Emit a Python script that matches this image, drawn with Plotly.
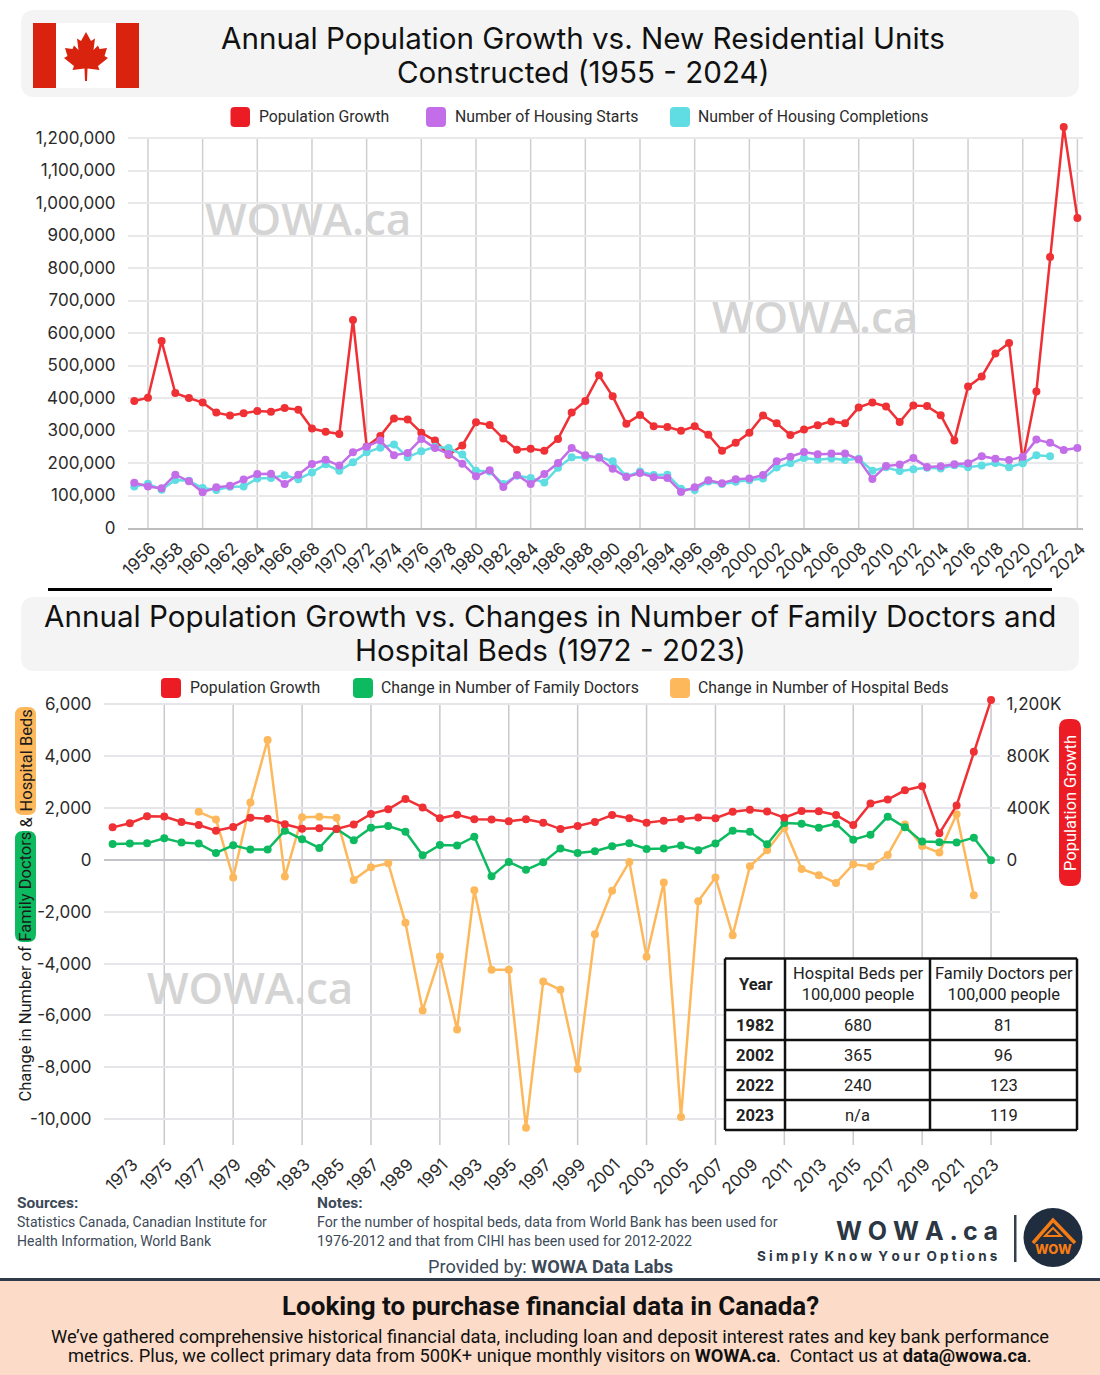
import plotly.graph_objects as go

W, H = 1100, 1375

# data
years_top = list(range(1955, 2025))
pop_growth = [391, 401, 575, 415, 400, 386, 355, 346, 353, 360, 358, 369, 364, 306, 296, 289, 640, 251, 283, 337,
              334, 293, 269, 225, 254, 325, 317, 275, 241, 244, 238, 274, 355, 391, 470, 405, 321, 348, 313, 311,
              299, 313, 287, 238, 262, 293, 346, 322, 286, 303, 316, 328, 322, 371, 386, 374, 326, 377, 375, 347,
              269, 435, 466, 537, 569, 205, 420, 834, 1234, 954]
housing_starts = [139, 128, 122, 164, 144, 110, 125, 130, 149, 166, 167, 135, 164, 197, 210, 192, 233, 250, 269, 224,
                  231, 274, 246, 228, 198, 159, 178, 126, 163, 135, 166, 200, 246, 224, 216, 182, 157, 169, 156, 154,
                  111, 125, 147, 138, 150, 152, 163, 205, 219, 234, 227, 229, 229, 211, 151, 191, 195, 215, 188, 190,
                  196, 199, 221, 213, 209, 219, 272, 262, 240, 246]
housing_completions = [128, 136, 118, 148, 145, 123, 117, 127, 128, 152, 154, 162, 150, 171, 196, 176, 202, 233, 247, 257,
                       218, 236, 250, 246, 226, 176, 174, 135, 161, 154, 140, 185, 218, 217, 219, 205, 159, 174, 163, 164,
                       121, 117, 143, 135, 142, 147, 152, 186, 199, 215, 210, 214, 209, 213, 176, 187, 175, 181, 185, 183,
                       193, 187, 192, 200, 187, 199, 224, 221]

years_bottom = list(range(1972, 2024))
pop_growth_bottom = pop_growth[17:69]
family_doctors = [615, 628, 640, 833, 667, 628, 269, 564, 397, 397, 1128, 795, 461, 1192, 756, 1243, 1308, 1090, 179, 577,
                  551, 897, -628, -77, -385, -90, 436, 269, 333, 526, 641, 423, 436, 551, 372, 628, 1128, 1090, 603, 1423,
                  1397, 1243, 1397, 782, 974, 1667, 1256, 705, 679, 667, 859, -13]
years_beds = list(range(1977, 2023))
hospital_beds = [1854, 1560, -681, 2212, 4630, -643, 1650, 1663, 1624, -771, -283, -129, -2429, -5810, -3728, -6542,
                 -1170, -4242, -4242, -10334, -4692, -5013, -8072, -2866, -1195, -80, -3740, -874, -9923, -1594, -681,
                 -2905, -244, 371, 1228, -347, -591, -887, -167, -257, 192, 1369, 537, 281, 1765, -1362]

table_header = ["<b>Year</b>", "Hospital Beds per<br>100,000 people", "Family Doctors per<br>100,000 people"]
table_years = ["<b>1982</b>", "<b>2002</b>", "<b>2022</b>", "<b>2023</b>"]
table_beds = ["680", "365", "240", "n/a"]
table_doctors = ["81", "96", "123", "119"]

left_ticks = [6000, 4000, 2000, 0, -2000, -4000, -6000, -8000, -10000]
left_labels = ["6,000", "4,000", "2,000", "0", "-2,000", "-4,000", "-6,000", "-8,000", "-10,000"]
right_ticks = [0, 400000, 800000, 1200000]
right_labels = ["0", "400K", "800K", "1,200K"]
grid_years_top = [1956, 1960, 1964, 1968, 1972, 1976, 1980, 1984, 1988, 1992, 1996, 2000, 2004, 2008, 2012, 2016, 2020, 2024]
grid_years_bottom = [1975, 1979, 1983, 1987, 1991, 1995, 1999, 2003, 2007, 2011, 2015, 2019, 2023]

RED, PURPLE, CYAN, GREEN, ORANGE = "#ef3035", "#c36ee8", "#5fdde3", "#0dba60", "#fdb85c"
RED_BOX = "#ec1c24"
FONT = "Inter"
NARROW = "Roboto"
TEXT = "#2b2b2b"


def fx(p):
    return p / W


def fy(p):
    return 1 - p / H


def box(x0, y0, x1, y1, color, r=0, layer="below"):
    if r == 0:
        return dict(type="rect", xref="paper", yref="paper", x0=fx(x0), x1=fx(x1), y0=fy(y0), y1=fy(y1),
                    fillcolor=color, line_width=0, layer=layer)
    pts = [("M", x0 + r, y0), ("L", x1 - r, y0), ("Q", x1, y0, x1, y0 + r), ("L", x1, y1 - r), ("Q", x1, y1, x1 - r, y1),
           ("L", x0 + r, y1), ("Q", x0, y1, x0, y1 - r), ("L", x0, y0 + r), ("Q", x0, y0, x0 + r, y0)]
    d = ""
    for p in pts:
        d += p[0]
        vals = p[1:]
        d += " ".join(f"{fx(vals[i]):.5f},{fy(vals[i + 1]):.5f}" for i in range(0, len(vals), 2)) + " "
    return dict(type="path", xref="paper", yref="paper", path=d + "Z", fillcolor=color, line_width=0, layer=layer)


def poly(points, fill=None, line=None, width=0, closed=True):
    d = "M" + " L".join(f"{fx(a):.5f},{fy(b):.5f}" for a, b in points)
    if closed:
        d += " Z"
    return dict(type="path", xref="paper", yref="paper", path=d, fillcolor=fill or "rgba(0,0,0,0)",
                line=dict(color=line or "rgba(0,0,0,0)", width=width), layer="above")


def txt(x, y, text, size, color=TEXT, anchor="left", angle=0, family=FONT, weight=None):
    return dict(xref="paper", yref="paper", x=fx(x), y=fy(y), text=text, showarrow=False, xanchor=anchor,
                yanchor="middle", textangle=angle, align=anchor if anchor != "middle" else "center",
                font=dict(size=size, color=color, family=family, weight=weight))


def line_trace(x, y, name, color, xaxis, yaxis):
    return go.Scatter(x=x, y=y, name=name, mode="lines+markers", xaxis=xaxis, yaxis=yaxis, cliponaxis=False,
                      line=dict(color=color, width=2.5), marker=dict(color=color, size=8), showlegend=False)


fig = go.Figure()

# top chart
top_k = lambda s: [v * 1000 for v in s]
fig.add_trace(line_trace(years_top, top_k(pop_growth), "Population Growth", RED, "x", "y"))
fig.add_trace(line_trace(years_top[:len(housing_completions)], top_k(housing_completions), "Number of Housing Completions", CYAN, "x", "y"))
fig.add_trace(line_trace(years_top, top_k(housing_starts), "Number of Housing Starts", PURPLE, "x", "y"))

# bottom chart
fig.add_trace(line_trace(years_beds, hospital_beds, "Change in Number of Hospital Beds", ORANGE, "x2", "y2"))
fig.add_trace(line_trace(years_bottom, family_doctors, "Change in Number of Family Doctors", GREEN, "x2", "y2"))
fig.add_trace(line_trace(years_bottom, top_k(pop_growth_bottom), "Population Growth", RED, "x2", "y3"))

shapes = [
    box(21, 10, 1079, 97, "#f4f4f4", 14),
    box(21, 597, 1079, 671, "#f4f4f4", 14),
    box(48, 588, 1052, 591, "#000000"),
    # flag
    box(33, 23, 139, 88, "#ffffff"),
    box(33, 23, 56, 88, "#d9230f"),
    box(116, 23, 139, 88, "#d9230f"),
    # footer
    box(0, 1281, W, H, "#fcdcc8"),
    box(0, 1278, W, 1281, "#2f3b49"),
    # axis pills
    box(15, 707, 36, 815, ORANGE, 8),
    box(15, 831, 36, 942, GREEN, 8),
    box(1059, 719, 1081, 886, RED_BOX, 9),
    # logo
    box(1014, 1215, 1016.5, 1262, "#34404f"),
    dict(type="circle", xref="paper", yref="paper", x0=fx(1023.5), x1=fx(1082.5), y0=fy(1208), y1=fy(1267),
         fillcolor="#1f2d3f", line_width=0),
]

leaf_half = [(0, 32), (5, 41), (9, 38.5), (7.5, 50), (12, 45.5), (13.5, 49), (21, 48), (18.5, 56), (22, 58), (12, 66),
             (13.5, 70), (1.5, 68.5), (1, 81)]
leaf = [(86 + a, b) for a, b in leaf_half] + [(86 - a, b) for a, b in reversed(leaf_half)]
shapes.append(poly(leaf, fill="#d9230f"))

shapes.append(poly([(1033, 1243), (1053, 1220), (1075, 1243)], line="#f57c14", width=3.5, closed=False))
shapes.append(poly([(1053, 1228), (1045, 1236), (1061, 1236)], line="#f57c14", width=2))

for s in [(230.5, 107, 250, 127, RED_BOX), (426, 107, 446, 127, PURPLE), (670, 107, 690, 127, CYAN),
          (161, 678, 181, 698, RED_BOX), (353, 678, 373, 698, GREEN), (670, 678, 690, 698, ORANGE)]:
    shapes.append(box(s[0], s[1], s[2], s[3], s[4], 4))

for yr in grid_years_top:
    shapes.append(dict(type="line", xref="x", yref="y", x0=yr, x1=yr, y0=0, y1=1200000,
                       line=dict(color="#cfcfcf", width=1.5), layer="below"))
for yr in grid_years_bottom:
    shapes.append(dict(type="line", xref="x2", yref="y2", x0=yr, x1=yr, y0=-11000, y1=6000,
                       line=dict(color="#c9c9ce", width=1.5), layer="below"))

# table
col_edges = [725, 785, 930, 1077]
row_edges = [958.5, 1010, 1040, 1070, 1100, 1130]
shapes.append(box(col_edges[0], row_edges[0], col_edges[-1], row_edges[-1], "#ffffff", layer="above"))
for cx in col_edges:
    shapes.append(poly([(cx, row_edges[0]), (cx, row_edges[-1])], line="#111111", width=2.5, closed=False))
for cy in row_edges:
    shapes.append(poly([(col_edges[0], cy), (col_edges[-1], cy)], line="#111111", width=2.5, closed=False))

annotations = [
    txt(583, 38, "Annual Population Growth vs. New Residential Units", 29.6, "#111111", "center"),
    txt(583, 72, "Constructed (1955 - 2024)", 29.6, "#111111", "center"),
    txt(550, 616, "Annual Population Growth vs. Changes in Number of Family Doctors and", 29.6, "#111111", "center"),
    txt(550, 650, "Hospital Beds (1972 - 2023)", 29.6, "#111111", "center"),
    # legends
    txt(257, 116, "Population Growth", 15.8, family=NARROW),
    txt(453, 116, "Number of Housing Starts", 15.8, family=NARROW),
    txt(696, 116, "Number of Housing Completions", 15.8, family=NARROW),
    txt(188, 687, "Population Growth", 15.8, family=NARROW),
    txt(379, 687, "Change in Number of Family Doctors", 15.8, family=NARROW),
    txt(696, 687, "Change in Number of Hospital Beds", 15.8, family=NARROW),
    # watermarks
    txt(308, 218, "WOWA.ca", 44, "#d4d4d4", "center", family="Open Sans", weight=600),
    txt(815, 316, "WOWA.ca", 44, "#d4d4d4", "center", family="Open Sans", weight=600),
    txt(250, 987, "WOWA.ca", 44, "#d4d4d4", "center", family="Open Sans", weight=600),
    # axis titles
    txt(25.5, 761, "Hospital Beds", 16.5, "#1a1a1a", "center", -90, NARROW),
    txt(25.5, 822, "&", 16.5, "#1a1a1a", "center", -90, NARROW),
    txt(25.5, 887, "Family Doctors", 16.5, "#1a1a1a", "center", -90, NARROW),
    txt(25.5, 1024, "Change in Number of", 16.5, "#1a1a1a", "center", -90, NARROW),
    txt(1070, 803, "Population Growth", 16.5, "#ffffff", "center", -90, NARROW),
    # footer
    txt(15, 1203, "Sources:", 15.5, "#3d4a58", family=NARROW, weight=700),
    txt(15, 1222, "Statistics Canada, Canadian Institute for", 14, "#3d4a58", family=NARROW),
    txt(15, 1241, "Health Information, World Bank", 14, "#3d4a58", family=NARROW),
    txt(315, 1203, "Notes:", 15.5, "#3d4a58", family=NARROW, weight=700),
    txt(315, 1222, "For the number of hospital beds, data from World Bank has been used for", 14.2, "#3d4a58", family=NARROW),
    txt(315, 1241, "1976-2012 and that from CIHI has been used for 2012-2022", 14.2, "#3d4a58", family=NARROW),
    txt(550, 1266, "Provided by: <b>WOWA Data Labs</b>", 18.2, "#3d4a58", "center", family=NARROW),
    txt(1000, 1231, "W O W A . c a", 25, "#2c3744", "right", weight=700),
    txt(1000, 1256, "S i m p l y  K n o w  Y o u r  O p t i o n s", 13.5, "#2c3744", "right", weight=700),
    txt(1053.5, 1249, "WOW", 13, "#f57c14", "center", weight=800),
    txt(550, 1306, "Looking to purchase financial data in Canada?", 26, "#111111", "center", family=NARROW, weight=700),
    txt(550, 1336, "We’ve gathered comprehensive historical financial data, including loan and deposit interest rates and key bank performance", 18.3, "#111111", "center", family=NARROW),
    txt(550, 1355, "metrics. Plus, we collect primary data from 500K+ unique monthly visitors on <b>WOWA.ca</b>.  Contact us at <b>data@wowa.ca</b>.", 18.3, "#111111", "center", family=NARROW),
]

# table text
columns = [[table_header[i]] + col for i, col in enumerate([table_years, table_beds, table_doctors])]
for c, col in enumerate(columns):
    cx = (col_edges[c] + col_edges[c + 1]) / 2
    for r, label in enumerate(col):
        cy = (row_edges[r] + row_edges[r + 1]) / 2
        annotations.append(txt(cx, cy, label, 16.5, "#222222", "center", family=NARROW))

tick_font = dict(size=17, color=TEXT, family=FONT)
fig.update_layout(
    width=W, height=H, margin=dict(l=0, r=0, t=0, b=0, autoexpand=False), paper_bgcolor="white", plot_bgcolor="rgba(0,0,0,0)",
    font=dict(family=FONT), showlegend=False, shapes=shapes, annotations=annotations,
    xaxis=dict(domain=[fx(128), fx(1083)], range=[1954.54, 2024.41], anchor="y", tick0=1956, dtick=2, tickangle=-45,
               showgrid=False, zeroline=False, showline=True, linecolor="#bdbdbd", linewidth=1.5, tickfont=tick_font,
               tickformat="d", ticks="outside", ticklen=2, tickcolor="rgba(0,0,0,0)", ticklabelshift=3),
    yaxis=dict(domain=[fy(528), fy(125)], range=[0, 1240000], anchor="x", dtick=100000, tickformat=",",
               showgrid=True, gridcolor="#e9e9ec", gridwidth=1.5, zeroline=False, tickfont=tick_font,
               ticks="outside", ticklen=8, tickcolor="rgba(0,0,0,0)"),
    xaxis2=dict(domain=[fx(104), fx(1000)], range=[1971.5, 2023.52], anchor="y2", tick0=1973, dtick=2, tickangle=-45,
                showgrid=False, zeroline=False, showline=False, tickfont=tick_font, tickformat="d",
                ticks="outside", ticklen=2, tickcolor="rgba(0,0,0,0)", ticklabelshift=3),
    yaxis2=dict(domain=[fy(1145), fy(699.2)], range=[-11000, 6200], anchor="x2", tickvals=left_ticks, ticktext=left_labels,
                showgrid=True, gridcolor="#e6e6ea", gridwidth=1.5, zeroline=True, zerolinecolor="#c4c4c8",
                zerolinewidth=1.5, tickfont=tick_font, ticks="outside", ticklen=8, tickcolor="rgba(0,0,0,0)"),
    yaxis3=dict(range=[-2200000, 1240000], overlaying="y2", anchor="x2", side="right", tickvals=right_ticks,
                ticktext=right_labels, showgrid=False, zeroline=False, tickfont=tick_font,
                ticks="outside", ticklen=2, tickcolor="rgba(0,0,0,0)"),
)

fig.write_html("out.html", config=dict(displayModeBar=False), post_script="document.body.style.margin='0';")
